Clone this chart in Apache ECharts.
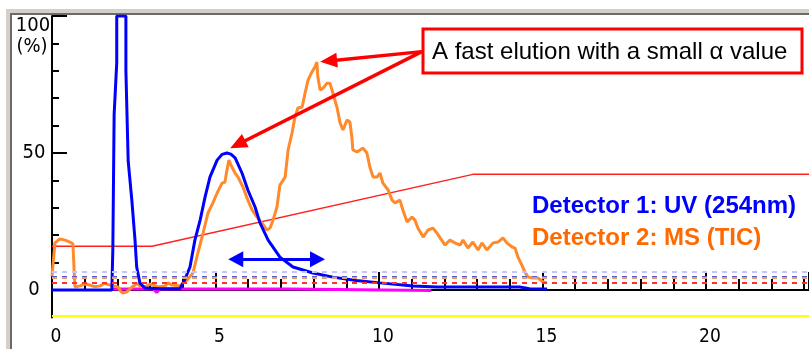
<!DOCTYPE html>
<html>
  <head>
    <title></title>
    <meta charset="UTF-8" />
    <script src="https://cdn.jsdelivr.net/npm/echarts@6/dist/echarts.min.js"></script>
    <style>
      html, body { margin: 0; padding: 0; background: #fff; }
    </style>
  </head>
  <body>
    <div id="main"></div>
    <script>
      const width = 809;
      const height = 349;
      const main = document.getElementById('main');
      main.style.width = `${width}px`;
      main.style.height = `${height}px`;

      // [time (min), signal (%)]
      const uvTrace = [
        [0, 0], [1.83, 0], [1.86, 14.6], [1.9, 64], [1.98, 83], [1.98, 100], [2.26, 100],
        [2.26, 80], [2.33, 47], [2.44, 33], [2.54, 18], [2.59, 8.4], [2.69, 2.5], [2.84, 0.7],
        [3.3, 0.5], [3.91, 0.5], [4.05, 3.5], [4.22, 8.4], [4.37, 18.2], [4.53, 25.5],
        [4.68, 33.9], [4.83, 41.2], [5.05, 47.4], [5.2, 49.5], [5.35, 50], [5.47, 49.6],
        [5.6, 48.2], [5.81, 42.7], [5.99, 36.5], [6.21, 30.3], [6.36, 24.5], [6.61, 18.2],
        [6.97, 12], [7.37, 8.4], [7.98, 6.2], [8.59, 4.7], [9.3, 3.5], [10.03, 2.6],
        [11.04, 1.5], [11.77, 1.1], [14.3, 1.1], [14.6, 0.5], [15.14, 0.4],
      ];
      const msTrace = [
        [0, 5], [0.09, 17.2], [0.24, 18.6], [0.4, 18.2], [0.55, 17.5], [0.64, 16.8], [0.7, 1.1],
        [0.86, 1.5], [1.0, 2.2], [1.16, 1.8], [1.3, 1.2], [1.47, 1.5], [1.6, 2.4], [1.77, 1.8],
        [2.02, 1.1], [2.1, -0.5], [2.17, -1.1], [2.29, -0.7], [2.45, 1.1], [2.6, 2.4], [2.69, 1.5],
        [2.85, 1.2], [3.0, 2.2], [3.24, 1.1], [3.46, 1.5], [3.55, 2.6], [3.67, 1.8], [3.91, 1.5],
        [4.13, 3.6], [4.31, 6.2], [4.46, 13.5], [4.62, 20.8], [4.77, 28.1], [4.92, 31.8],
        [5.05, 35.4], [5.2, 39], [5.29, 39.4], [5.35, 43.8], [5.41, 47.4], [5.5, 44.9],
        [5.6, 42.7], [5.69, 41.2], [5.84, 37.6], [5.99, 32.8], [6.12, 29.2], [6.27, 26.6],
        [6.42, 24.5], [6.57, 21.9], [6.67, 22.6], [6.76, 25.5], [6.88, 30.3], [6.97, 38.3],
        [7.13, 41.2], [7.22, 51.1], [7.34, 57.3], [7.43, 63.1], [7.52, 66.4], [7.65, 66.8],
        [7.74, 71.9], [7.83, 76.6], [7.95, 79.6], [8.04, 81.4], [8.1, 83.2], [8.13, 77.7],
        [8.2, 73], [8.29, 73.7], [8.41, 75.5], [8.5, 75.5], [8.59, 71.9], [8.72, 66.4],
        [8.81, 61], [8.9, 58.4], [9.02, 62], [9.11, 61.3], [9.17, 55.8], [9.2, 51.1],
        [9.33, 50.4], [9.51, 51.8], [9.63, 50], [9.72, 44.9], [9.82, 41.2], [9.94, 41.2],
        [10.03, 42.7], [10.12, 39], [10.28, 36.5], [10.4, 32.8], [10.49, 31.8], [10.64, 32.8],
        [10.73, 29.2], [10.86, 24.8], [11.01, 26.6], [11.1, 25.5], [11.19, 22.6], [11.35, 19.3],
        [11.5, 21.9], [11.65, 22.6], [11.77, 20.8], [11.87, 19], [12.02, 16.4], [12.17, 18.2],
        [12.32, 17.2], [12.48, 16.4], [12.57, 18.2], [12.72, 15.3], [12.87, 17.5], [13.03, 14.6],
        [13.15, 17.2], [13.3, 14.6], [13.49, 17.2], [13.64, 17.5], [13.79, 19], [13.91, 17.2],
        [14.07, 15.7], [14.16, 15.3], [14.25, 12], [14.37, 9.1], [14.46, 6.6], [14.56, 4.7],
        [14.71, 4.4], [14.86, 4.4], [15.02, 2.9], [15.14, 2.6],
      ];
      const gradientTrace = [[0, 16], [3.06, 16], [12.87, 42.2], [23.15, 42.2]];
      const fractionTrace = [
        [1.83, 0.4], [3.1, 0.4], [3.2, -0.9], [3.3, 0.4], [7.3, 0.4], [7.35, -0.2], [11.6, -0.2],
      ];

      // threshold levels and colours
      const thresholdLevels = [6.7, 4.9, 4.3, 2.8];
      const thresholdColors = ['#c4c4ff', '#5858c8', '#e0a070', '#ff3030'];
      const floorLevel = -9.5;

      const xTicks = [0, 5, 10, 15, 20];
      const yLabelValues = [0, 50];
      const yMajorTicks = [0, 50, 100];
      const yMinorTicks = [10, 20, 30, 40, 60, 70, 80, 90];

      // annotation arrows in data space
      const calloutStart = [11.31, 87];
      const calloutTips = [[8.46, 83.6], [5.68, 53.1]];
      const spanArrow = [[5.62, 11.2], [8.12, 11.2]];

      const narrow = "'Liberation Sans Narrow', 'DejaVu Sans Condensed', sans-serif";
      const arial = "'Liberation Sans', Arial, sans-serif";

      const myChart = echarts.init(main);
      const option = {
        animation: false,
        backgroundColor: '#fff',
        grid: { left: 52, right: 0, top: 16, bottom: 31.6, containLabel: false },
        xAxis: [
          {
            type: 'value',
            min: 0,
            max: 23.15,
            interval: 5,
            position: 'bottom',
            axisLine: { onZero: true, lineStyle: { color: '#000', width: 2 } },
            axisTick: { inside: true, length: 18, lineStyle: { color: '#000', width: 2 } },
            minorTick: { show: true, splitNumber: 5, length: 11, lineStyle: { color: '#000', width: 2 } },
            axisLabel: { show: false },
            splitLine: { show: false },
          },
          {
            type: 'value',
            min: 0,
            max: 23.15,
            interval: 5,
            position: 'bottom',
            axisLine: { show: false, onZero: false },
            axisTick: { show: false },
            axisLabel: {
              customValues: xTicks,
              margin: 10,
              color: '#000',
              fontFamily: narrow,
              fontSize: 19,
              padding: [0, 0, 0, 8],
            },
            splitLine: { show: false },
          },
        ],
        yAxis: [
          {
            type: 'value',
            min: -10,
            max: 100,
            interval: 10,
            position: 'left',
            axisLine: { show: true, lineStyle: { color: '#000', width: 2 } },
            axisTick: {
              show: true,
              inside: true,
              length: 15,
              customValues: yMajorTicks,
              lineStyle: { color: '#000', width: 2 },
            },
            axisLabel: {
              customValues: yLabelValues,
              align: 'center',
              margin: 18,
              color: '#000',
              fontFamily: narrow,
              fontSize: 20,
            },
            splitLine: { show: false },
          },
          {
            type: 'value',
            min: -10,
            max: 100,
            interval: 10,
            position: 'left',
            axisLine: { show: false },
            axisTick: {
              show: true,
              inside: true,
              length: 7,
              customValues: yMinorTicks,
              lineStyle: { color: '#000', width: 2 },
            },
            axisLabel: { show: false },
            splitLine: { show: false },
          },
        ],
        series: [
          {
            name: 'Gradient',
            type: 'line',
            data: gradientTrace,
            showSymbol: false,
            lineStyle: { color: '#ff2020', width: 1.5 },
            z: 1,
            markLine: {
              silent: true,
              symbol: 'none',
              label: { show: false },
              data: thresholdLevels
                .map((v, i) => ({
                  yAxis: v,
                  lineStyle: { color: thresholdColors[i], width: 2, type: [5, 5] },
                }))
                .concat([{ yAxis: floorLevel, lineStyle: { color: '#ffff00', width: 2, type: 'solid' } }]),
            },
          },
          {
            name: 'Fraction',
            type: 'line',
            data: fractionTrace,
            showSymbol: false,
            lineStyle: { color: '#ff00ff', width: 3 },
            z: 2,
          },
          {
            name: 'Detector 2: MS (TIC)',
            type: 'line',
            data: msTrace,
            showSymbol: false,
            lineStyle: { color: '#ff8a2b', width: 3 },
            z: 3,
            markLine: {
              silent: true,
              symbol: ['triangle', 'triangle'],
              symbolSize: [16, 15],
              label: { show: false },
              lineStyle: { color: '#0000ff', width: 3, type: 'solid' },
              data: [[{ coord: spanArrow[0] }, { coord: spanArrow[1] }]],
            },
          },
          {
            name: 'Detector 1: UV (254nm)',
            type: 'line',
            data: uvTrace,
            showSymbol: false,
            lineStyle: { color: '#0000ff', width: 3 },
            z: 4,
            markLine: {
              silent: true,
              symbol: ['none', 'triangle'],
              symbolSize: [15, 17],
              label: { show: false },
              lineStyle: { color: '#ff0000', width: 3.5, type: 'solid' },
              data: calloutTips.map((tip) => [{ coord: calloutStart }, { coord: tip }]),
            },
          },
        ],
        graphic: [
          // window frame
          { type: 'rect', shape: { x: 6, y: 9, width: 803, height: 5 }, style: { fill: '#d4d0c8' }, silent: true },
          { type: 'rect', shape: { x: 6, y: 9, width: 5, height: 340 }, style: { fill: '#d4d0c8' }, silent: true },
          { type: 'rect', shape: { x: 10, y: 13, width: 799, height: 2 }, style: { fill: '#6a6a6a' }, silent: true },
          { type: 'rect', shape: { x: 10, y: 13, width: 2, height: 336 }, style: { fill: '#6a6a6a' }, silent: true },
          // y unit label
          {
            type: 'text',
            x: 33,
            y: 26,
            style: { text: '100', fill: '#000', font: `20px ${narrow}`, align: 'center', verticalAlign: 'middle' },
          },
          {
            type: 'text',
            x: 32,
            y: 47,
            style: { text: '(%)', fill: '#000', font: `20px ${narrow}`, align: 'center', verticalAlign: 'middle' },
          },
          // callout box
          {
            type: 'rect',
            shape: { x: 423, y: 29, width: 379, height: 44 },
            style: { fill: '#fff', stroke: '#ff0000', lineWidth: 3 },
            z: 10,
          },
          {
            type: 'text',
            x: 432,
            y: 52,
            z: 11,
            style: {
              text: 'A fast elution with a small α value',
              fill: '#000',
              font: `24px ${arial}`,
              verticalAlign: 'middle',
            },
          },
          // detector labels
          {
            type: 'text',
            x: 532,
            y: 206,
            z: 11,
            style: {
              text: 'Detector 1: UV (254nm)',
              fill: '#0000ff',
              font: `bold 24px ${arial}`,
              verticalAlign: 'middle',
            },
          },
          {
            type: 'text',
            x: 532,
            y: 238,
            z: 11,
            style: {
              text: 'Detector 2: MS (TIC)',
              fill: '#ff6a00',
              font: `bold 24px ${arial}`,
              verticalAlign: 'middle',
            },
          },
        ],
      };
      myChart.setOption(option);
    </script>
  </body>
</html>
